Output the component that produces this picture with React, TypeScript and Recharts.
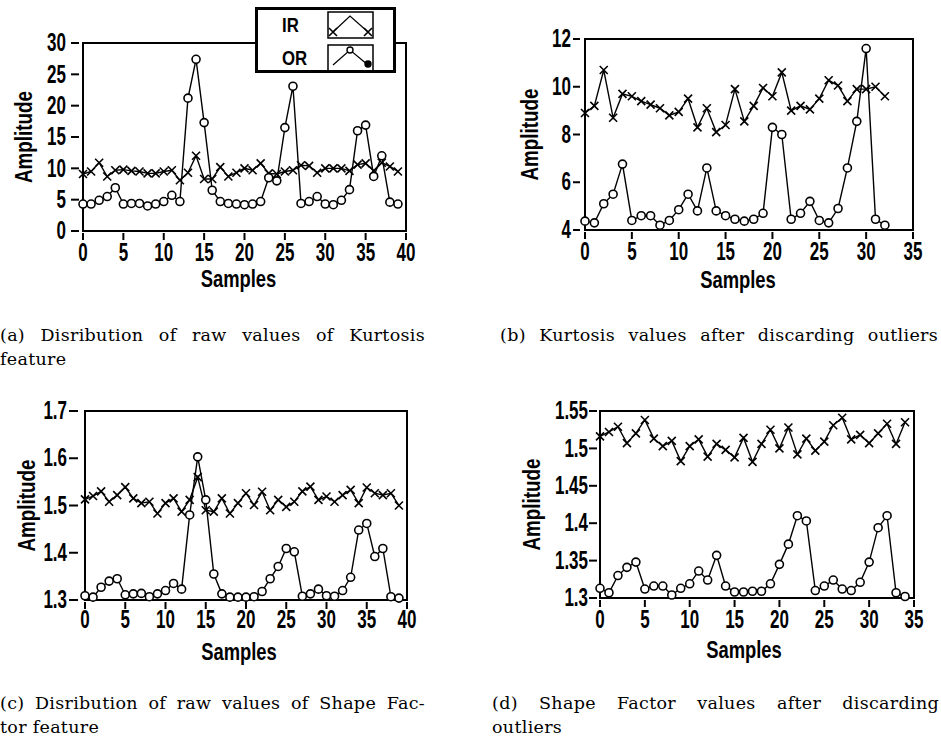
import React from 'react';
import { LineChart, Line, XAxis, YAxis, ReferenceArea, Legend } from 'recharts';

// (a) raw kurtosis values
const kurtRawIR = [9.1, 9.5, 10.9, 8.7, 9.7, 9.8, 9.6, 9.5, 9.2, 9.2, 9.5, 9.7, 8.1, 9.3, 12.0, 8.3, 8.3, 10.2, 8.7, 9.3, 10.0, 9.7, 10.8, 9.2, 9.1, 9.5, 9.7, 10.5, 10.4, 9.3, 10.0, 10.0, 10.0, 9.6, 10.6, 10.8, 9.6, 10.9, 10.3, 9.5];
const kurtRawOR = [4.3, 4.3, 4.9, 5.5, 6.9, 4.3, 4.4, 4.4, 4.0, 4.3, 4.7, 5.7, 4.7, 21.2, 27.4, 17.3, 6.5, 4.7, 4.4, 4.3, 4.2, 4.3, 4.7, 8.5, 8.0, 16.5, 23.1, 4.4, 4.7, 5.5, 4.3, 4.2, 4.9, 6.6, 16.0, 16.9, 8.7, 12.0, 4.6, 4.3];
const kurtRawYTicks = [0, 5, 10, 15, 20, 25, 30];

// (b) kurtosis after discarding outliers
const kurtCleanIR = [8.9, 9.2, 10.7, 8.7, 9.7, 9.6, 9.4, 9.25, 9.1, 8.8, 8.95, 9.5, 8.3, 9.1, 8.1, 8.4, 9.9, 8.55, 9.2, 9.95, 9.6, 10.6, 9.0, 9.2, 9.05, 9.5, 10.27, 10.05, 9.4, 9.9, 9.9, 10.0, 9.6];
const kurtCleanOR = [4.37, 4.3, 5.1, 5.5, 6.76, 4.4, 4.6, 4.6, 4.2, 4.4, 4.85, 5.5, 4.8, 6.6, 4.8, 4.6, 4.45, 4.37, 4.45, 4.7, 8.3, 8.0, 4.45, 4.7, 5.2, 4.4, 4.3, 4.9, 6.6, 8.55, 11.6, 4.45, 4.2];
const kurtCleanYTicks = [4, 6, 8, 10, 12];

// (c) raw shape factor values
const shapeRawIR = [1.513, 1.52, 1.53, 1.508, 1.522, 1.539, 1.515, 1.505, 1.508, 1.483, 1.505, 1.515, 1.487, 1.512, 1.56, 1.49, 1.487, 1.515, 1.483, 1.505, 1.526, 1.501, 1.529, 1.49, 1.512, 1.497, 1.508, 1.53, 1.54, 1.512, 1.519, 1.508, 1.522, 1.533, 1.505, 1.538, 1.526, 1.522, 1.526, 1.5];
const shapeRawOR = [1.309, 1.306, 1.327, 1.34, 1.345, 1.311, 1.313, 1.314, 1.307, 1.313, 1.32, 1.335, 1.323, 1.48, 1.603, 1.512, 1.355, 1.313, 1.306, 1.306, 1.306, 1.307, 1.318, 1.345, 1.371, 1.409, 1.402, 1.308, 1.313, 1.323, 1.309, 1.308, 1.32, 1.348, 1.448, 1.462, 1.392, 1.409, 1.307, 1.304];
const shapeRawYTicks = [1.3, 1.4, 1.5, 1.6, 1.7];

// (d) shape factor after discarding outliers
const shapeCleanIR = [1.516, 1.522, 1.529, 1.507, 1.52, 1.538, 1.513, 1.503, 1.51, 1.483, 1.503, 1.512, 1.489, 1.506, 1.498, 1.488, 1.514, 1.482, 1.506, 1.525, 1.5, 1.528, 1.492, 1.513, 1.497, 1.509, 1.531, 1.541, 1.512, 1.518, 1.507, 1.52, 1.533, 1.506, 1.535];
const shapeCleanOR = [1.313, 1.307, 1.33, 1.341, 1.348, 1.312, 1.316, 1.316, 1.304, 1.313, 1.319, 1.336, 1.324, 1.357, 1.316, 1.308, 1.308, 1.309, 1.309, 1.319, 1.345, 1.372, 1.41, 1.403, 1.31, 1.316, 1.324, 1.312, 1.31, 1.321, 1.348, 1.394, 1.41, 1.307, 1.302];
const shapeCleanYTicks = [1.3, 1.35, 1.4, 1.45, 1.5, 1.55];

const samples40Ticks = [0, 5, 10, 15, 20, 25, 30, 35, 40];
const samples35Ticks = [0, 5, 10, 15, 20, 25, 30, 35];

const legendNames = ['IR', 'OR'];
const xLabel = 'Samples';
const yLabel = 'Amplitude';

const captionA = ['(a) Disribution of raw values of Kurtosis', 'feature'];
const captionB = ['(b) Kurtosis values after discarding outliers'];
const captionC = ['(c) Disribution of raw values of Shape Fac-', 'tor feature'];
const captionD = ['(d) Shape Factor values after discarding', 'outliers'];

const SANS = "'Liberation Sans', Arial, sans-serif";
const SERIF = "'DejaVu Serif', serif";

const toRows = (ir: number[], or: number[]) => ir.map((v, i) => ({ x: i, ir: v, or: or[i] }));

const renderCross = (props: any) => {
  const { cx, cy, index } = props;
  if (cx == null || cy == null) return <g key={`c-${index}`} />;
  const s = 4;
  return (
    <path
      key={`c-${index}`}
      d={`M${cx - s},${cy - s}L${cx + s},${cy + s}M${cx - s},${cy + s}L${cx + s},${cy - s}`}
      stroke="#000"
      strokeWidth={1.6}
      fill="none"
    />
  );
};

const renderCircle = (props: any) => {
  const { cx, cy, index } = props;
  if (cx == null || cy == null) return <g key={`o-${index}`} />;
  return <circle key={`o-${index}`} cx={cx} cy={cy} r={4} fill="#fff" stroke="#000" strokeWidth={1.6} />;
};

const LegendBox = () => (
  <svg width={141} height={66} style={{ display: 'block' }}>
    <rect x={1.5} y={1.5} width={138} height={63} fill="#fff" stroke="#000" strokeWidth={3} />
    <text x={27} y={18} dominantBaseline="central" fontFamily={SANS} fontWeight="bold" fontSize={21} transform="translate(27,0) scale(0.8,1) translate(-27,0)">
      {legendNames[0]}
    </text>
    <rect x={73} y={5} width={45} height={26} fill="none" stroke="#000" strokeWidth={1.5} />
    <polyline points="78,25 95,9 113,25" fill="none" stroke="#000" strokeWidth={1.2} />
    {renderCross({ cx: 78, cy: 25, index: 'l1' })}
    {renderCross({ cx: 113, cy: 25, index: 'l2' })}
    <text x={27} y={51} dominantBaseline="central" fontFamily={SANS} fontWeight="bold" fontSize={21} transform="translate(27,0) scale(0.8,1) translate(-27,0)">
      {legendNames[1]}
    </text>
    <rect x={73} y={38} width={45} height={26} fill="none" stroke="#000" strokeWidth={1.5} />
    <polyline points="78,58 95,43 113,58" fill="none" stroke="#000" strokeWidth={1.2} />
    <circle cx={95} cy={43} r={3} fill="#fff" stroke="#000" strokeWidth={1.4} />
    <circle cx={113} cy={57} r={3} fill="#000" stroke="#000" strokeWidth={1.4} />
  </svg>
);

type TickGeom = { label: number; from: number; to: number };

const makeYTick = (fmt: (v: number) => string, g: TickGeom) => (props: any) => {
  const { x, y, payload } = props;
  return (
    <g>
      <line x1={x - g.from} x2={x - g.to} y1={y} y2={y} stroke="#000" strokeWidth={2} />
      <text
        transform={`translate(${x - g.label},${y}) scale(0.68,1)`}
        textAnchor="end"
        dominantBaseline="central"
        fontFamily={SANS}
        fontWeight="bold"
        fontSize={25}
        fill="#000"
      >
        {fmt(payload.value)}
      </text>
    </g>
  );
};

const makeXTick = (labelDy: number) => (props: any) => {
  const { x, y, payload } = props;
  return (
    <g>
      <line x1={x} x2={x} y1={y + 2} y2={y + 9} stroke="#000" strokeWidth={2} />
      <text
        transform={`translate(${x},${y + labelDy}) scale(0.68,1)`}
        textAnchor="middle"
        dominantBaseline="central"
        fontFamily={SANS}
        fontWeight="bold"
        fontSize={25}
        fill="#000"
      >
        {payload.value}
      </text>
    </g>
  );
};

type PanelProps = {
  left: number;
  top: number;
  width: number;
  height: number;
  marginTop: number;
  marginRight: number;
  yWidth: number;
  xHeight: number;
  ir: number[];
  or: number[];
  xMax: number;
  xTicks: number[];
  yDomain: [number, number];
  yTicks: number[];
  yGeom: TickGeom;
  xLabelDy: number;
  ampX: number;
  sampDx: number;
  sampDy: number;
  legend?: boolean;
};

const Panel = (p: PanelProps) => {
  const rows = toRows(p.ir, p.or);
  return (
    <div style={{ position: 'absolute', left: p.left, top: p.top, width: p.width, height: p.height }}>
      <LineChart
        width={p.width}
        height={p.height}
        data={rows}
        margin={{ top: p.marginTop, right: p.marginRight, bottom: 0, left: 0 }}
      >
        <XAxis
          type="number"
          dataKey="x"
          domain={[0, p.xMax]}
          ticks={p.xTicks}
          interval={0}
          height={p.xHeight}
          axisLine={false}
          tickLine={false}
          tickSize={0}
          tickMargin={0}
          tick={makeXTick(p.xLabelDy)}
          label={{
            content: (lp: any) => {
              const vb = lp.viewBox || { x: 0, y: 0, width: 0 };
              const cx = vb.x + vb.width / 2 + p.sampDx;
              const cy = vb.y + p.sampDy;
              return (
                <text
                  transform={`translate(${cx},${cy}) scale(0.8,1)`}
                  textAnchor="middle"
                  dominantBaseline="central"
                  fontFamily={SANS}
                  fontWeight="bold"
                  fontSize={23}
                  fill="#000"
                >
                  {xLabel}
                </text>
              );
            },
          }}
        />
        <YAxis
          type="number"
          domain={p.yDomain}
          ticks={p.yTicks}
          interval={0}
          width={p.yWidth}
          axisLine={false}
          tickLine={false}
          tickSize={0}
          tickMargin={0}
          tick={makeYTick((v) => String(v), p.yGeom)}
          label={{
            content: (lp: any) => {
              const vb = lp.viewBox || { x: 0, y: 0, height: 0 };
              const cx = vb.x + p.ampX;
              const cy = vb.y + vb.height / 2;
              return (
                <text
                  transform={`translate(${cx},${cy}) rotate(-90) scale(0.82,1)`}
                  textAnchor="middle"
                  dominantBaseline="central"
                  fontFamily={SANS}
                  fontWeight="bold"
                  fontSize={23}
                  fill="#000"
                >
                  {yLabel}
                </text>
              );
            },
          }}
        />
        <ReferenceArea
          x1={0}
          x2={p.xMax}
          y1={p.yDomain[0]}
          y2={p.yDomain[1]}
          fill="none"
          stroke="#000"
          strokeWidth={2}
          ifOverflow="visible"
        />
        <Line
          type="linear"
          dataKey="ir"
          name={legendNames[0]}
          stroke="#000"
          strokeWidth={1.4}
          dot={renderCross}
          activeDot={false}
          isAnimationActive={false}
        />
        <Line
          type="linear"
          dataKey="or"
          name={legendNames[1]}
          stroke="#000"
          strokeWidth={1.4}
          dot={renderCircle}
          activeDot={false}
          isAnimationActive={false}
        />
        {p.legend && (
          <Legend
            layout="horizontal"
            verticalAlign="middle"
            align="center"
            content={() => <LegendBox />}
            wrapperStyle={{ position: 'absolute', left: 255, top: 7, width: 141, height: 66 }}
          />
        )}
      </LineChart>
    </div>
  );
};

const Caption = ({ lines, left, top, width }: { lines: string[]; left: number; top: number; width: number }) => (
  <div
    style={{
      position: 'absolute',
      left,
      top,
      width,
      fontFamily: SERIF,
      fontSize: 17.5,
      letterSpacing: 0.3,
      lineHeight: '24px',
      color: '#000',
    }}
  >
    {lines.map((ln, i) => (
      <div
        key={i}
        style={{
          textAlign: 'justify',
          textAlignLast: i < lines.length - 1 || lines.length === 1 ? 'justify' : 'left',
          whiteSpace: 'normal',
        }}
      >
        {ln}
      </div>
    ))}
  </div>
);

export default function App() {
  return (
    <div
      style={{
        position: 'absolute',
        left: 0,
        top: 0,
        width: 941,
        height: 740,
        background: '#fff',
        overflow: 'hidden',
      }}
    >
      <Panel
        left={0}
        top={0}
        width={420}
        height={300}
        marginTop={43}
        marginRight={14}
        yWidth={83}
        xHeight={69}
        ir={kurtRawIR}
        or={kurtRawOR}
        xMax={40}
        xTicks={samples40Ticks}
        yDomain={[0, 30]}
        yTicks={kurtRawYTicks}
        yGeom={{ label: 17, from: 12, to: 4 }}
        xLabelDy={22}
        ampX={24}
        sampDx={-6}
        sampDy={48}
        legend
      />
      <Panel
        left={480}
        top={0}
        width={461}
        height={300}
        marginTop={39}
        marginRight={28}
        yWidth={105}
        xHeight={70}
        ir={kurtCleanIR}
        or={kurtCleanOR}
        xMax={35}
        xTicks={samples35Ticks}
        yDomain={[4, 12]}
        yTicks={kurtCleanYTicks}
        yGeom={{ label: 14, from: 12, to: 5 }}
        xLabelDy={22}
        ampX={50}
        sampDx={-11}
        sampDy={50}
      />
      <Panel
        left={0}
        top={370}
        width={420}
        height={300}
        marginTop={41}
        marginRight={13}
        yWidth={85}
        xHeight={70}
        ir={shapeRawIR}
        or={shapeRawOR}
        xMax={40}
        xTicks={samples40Ticks}
        yDomain={[1.3, 1.7]}
        yTicks={shapeRawYTicks}
        yGeom={{ label: 18, from: 16, to: 7 }}
        xLabelDy={20}
        ampX={27}
        sampDx={-7}
        sampDy={52}
      />
      <Panel
        left={480}
        top={370}
        width={461}
        height={300}
        marginTop={41}
        marginRight={27}
        yWidth={120}
        xHeight={72}
        ir={shapeCleanIR}
        or={shapeCleanOR}
        xMax={35}
        xTicks={samples35Ticks}
        yDomain={[1.3, 1.55]}
        yTicks={shapeCleanYTicks}
        yGeom={{ label: 12, from: 11, to: 3 }}
        xLabelDy={22}
        ampX={52}
        sampDx={-13}
        sampDy={52}
      />
      <Caption lines={captionA} left={0} top={323} width={425} />
      <Caption lines={captionB} left={500} top={323} width={438} />
      <Caption lines={captionC} left={0} top={691} width={425} />
      <Caption lines={captionD} left={492} top={691} width={447} />
    </div>
  );
}
